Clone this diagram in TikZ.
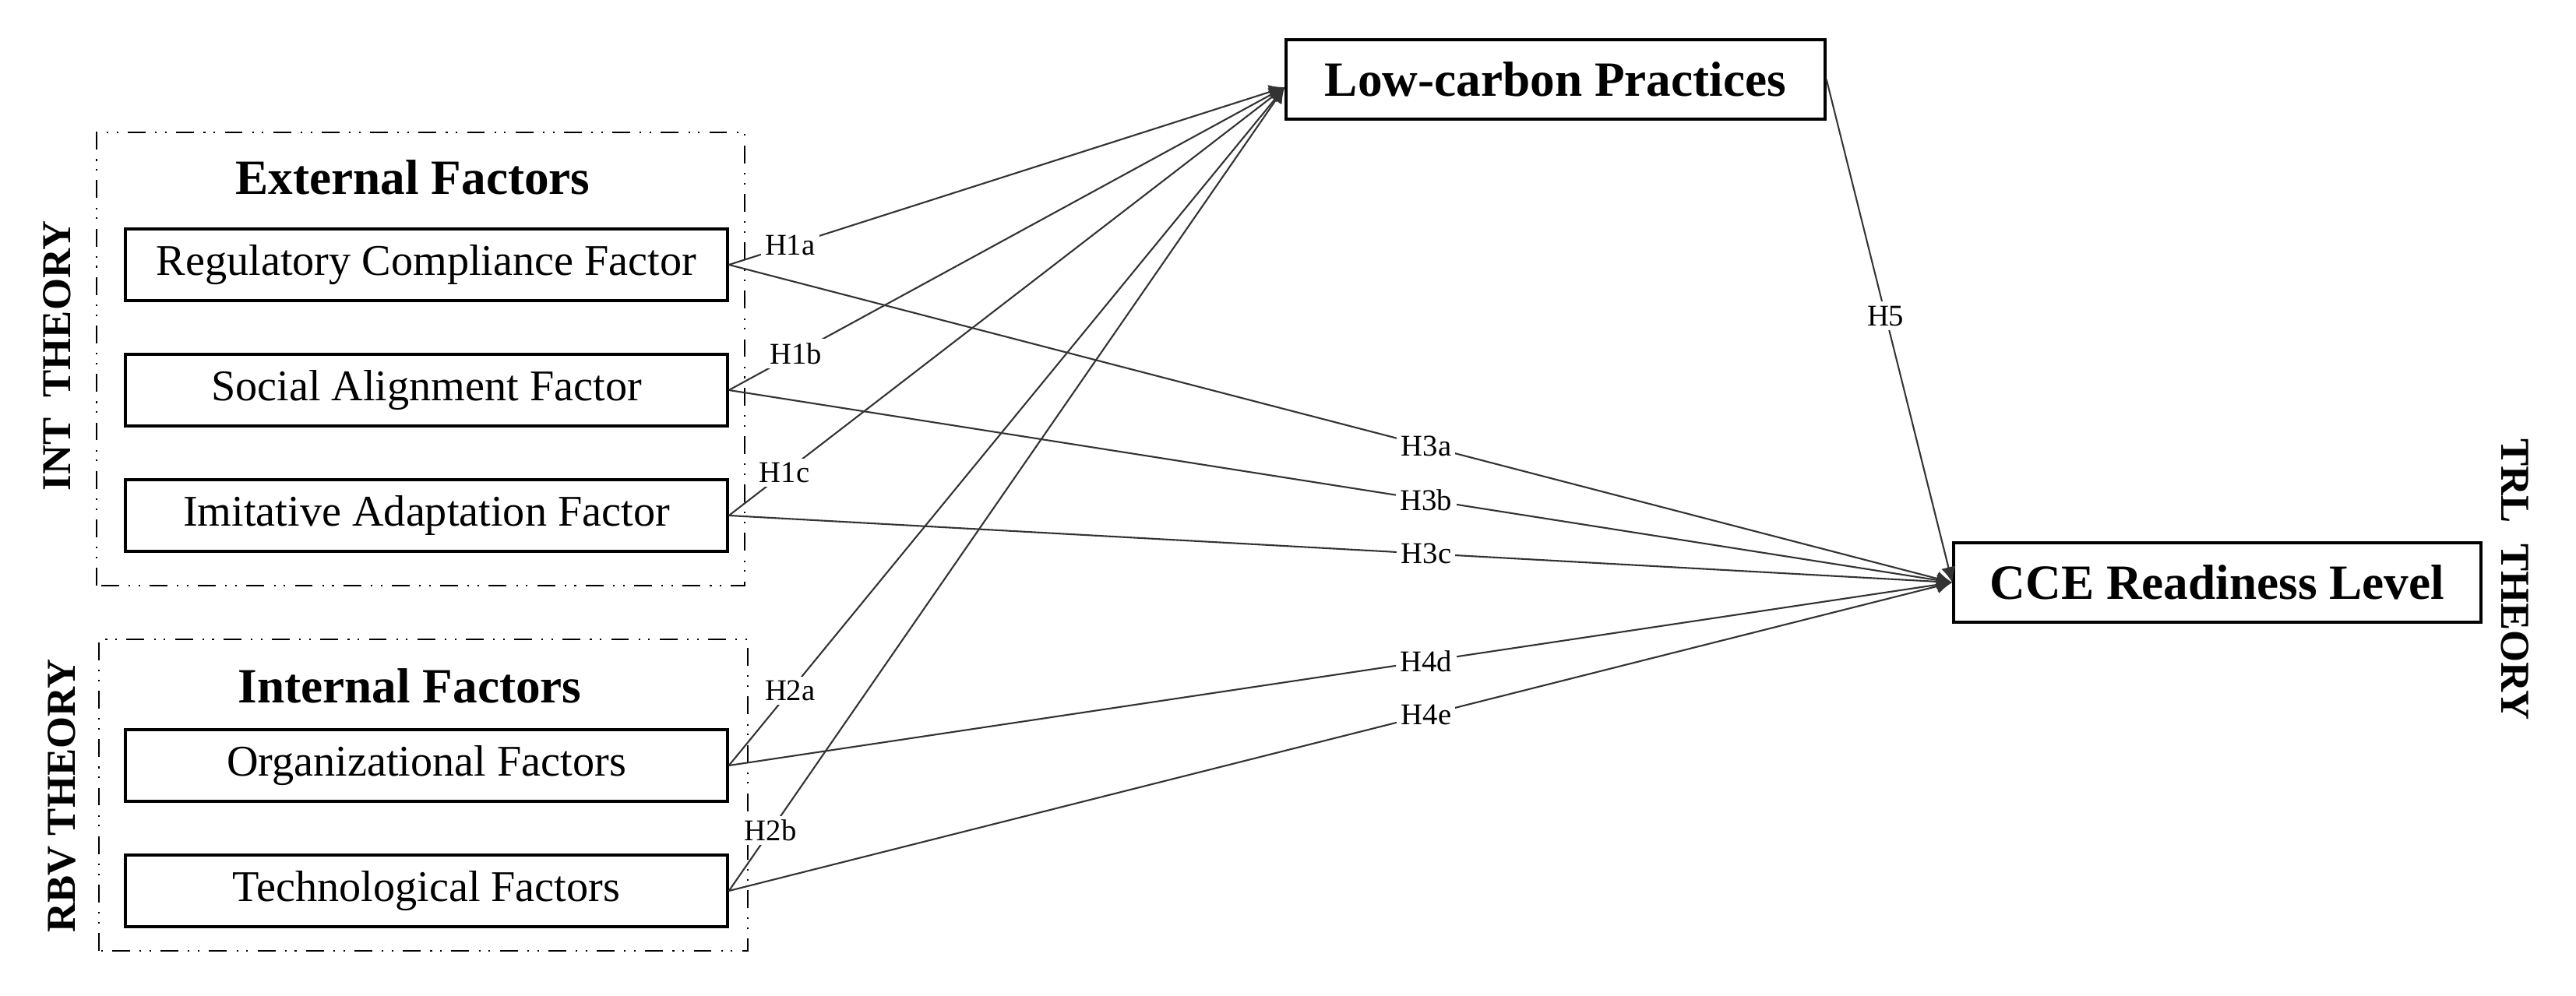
\documentclass[tikz,border=0pt]{standalone}
\usepackage{xcolor}
\usepackage{fontspec}
\setmainfont{Liberation Serif}
\usetikzlibrary{shapes.geometric, arrows, arrows.meta}
\tikzstyle{factor} = [rectangle, minimum width=7.73cm, minimum height=0.92cm, align=center, draw=black, line width=1pt, font=\fontsize{16}{19}\selectfont]
\tikzstyle{outcome} = [rectangle, minimum height=1.02cm, align=center, draw=black, line width=1pt, font=\bfseries\fontsize{18}{22}\selectfont]
\tikzstyle{groupbox} = [line width=0.7pt, dash pattern=on 6.5pt off 3.5pt on 0.6pt off 3pt on 0.6pt off 3.5pt]
\tikzstyle{grouptitle} = [font=\bfseries\fontsize{18}{22}\selectfont]
\tikzstyle{theory} = [font=\bfseries\fontsize{15}{18}\selectfont]
\tikzstyle{hyp} = [fill=white, inner sep=1.5pt, font=\fontsize{11}{13}\selectfont]
\tikzstyle{arrow} = [line width=0.6pt, draw=black!80, -{Latex[length=2mm, width=1.9mm]}]

\begin{document}
\begin{tikzpicture}[node distance=1.61cm]
\useasboundingbox (0,0) rectangle (33.07,12.79);
%\draw[help lines] (0,0) grid (33,12);
\node (ext_reg) [factor] at (5.475,9.39) {Regulatory Compliance Factor};
\node (ext_soc) [factor, below of=ext_reg] {Social Alignment Factor};
\node (ext_imi) [factor, below of=ext_soc] {Imitative Adaptation Factor};
\node (int_org) [factor, below of=ext_imi, yshift=-1.6cm] {Organizational Factors};
\node (int_tech) [factor, below of=int_org] {Technological Factors};

\node (ext_title) [grouptitle] at (5.30,10.51) {External Factors};
\node (int_title) [grouptitle] at (5.26,3.98) {Internal Factors};
\draw[groupbox] (1.24,5.27) rectangle (9.56,11.09);
\draw[groupbox] (1.27,0.58) rectangle (9.60,4.58);

\node (int_theory) [theory, rotate=90] at (0.73,8.22) {INT\ \ THEORY};
\node (rbv_theory) [theory, rotate=90] at (0.79,2.57) {RBV THEORY};
\node (trl_theory) [theory, rotate=-90] at (32.29,5.35) {TRL\ \ THEORY};

\node (lcp) [outcome, minimum width=6.92cm] at (19.97,11.77) {Low-carbon Practices};
\node (cce) [outcome, minimum width=6.77cm] at (28.465,5.31) {CCE Readiness Level};

\draw[arrow] (ext_reg.east) -- node[hyp, pos=0.11] {H1a} ([yshift=-1mm]lcp.west);
\draw[arrow] (ext_soc.east) -- node[hyp, pos=0.12] {H1b} ([yshift=-1mm]lcp.west);
\draw[arrow] (ext_imi.east) -- node[hyp, pos=0.10] {H1c} ([yshift=-1mm]lcp.west);
\draw[arrow] (int_org.east) -- node[hyp, pos=0.11] {H2a} ([yshift=-1mm]lcp.west);
\draw[arrow] (int_tech.east) -- node[hyp, pos=0.075] {H2b} ([yshift=-1mm]lcp.west);

\draw[arrow] (ext_reg.east) -- node[hyp, pos=0.57] {H3a} (cce.west);
\draw[arrow] (ext_soc.east) -- node[hyp, pos=0.57] {H3b} (cce.west);
\draw[arrow] (ext_imi.east) -- node[hyp, pos=0.57] {H3c} (cce.west);
\draw[arrow] (int_org.east) -- node[hyp, pos=0.57] {H4d} (cce.west);
\draw[arrow] (int_tech.east) -- node[hyp, pos=0.57] {H4e} (cce.west);

\draw[arrow] (lcp.east) -- node[hyp, pos=0.47] {H5} (cce.west);
\end{tikzpicture}
\end{document}
